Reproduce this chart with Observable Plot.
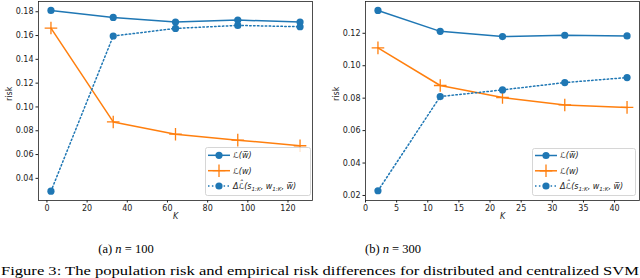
<!DOCTYPE html>
<html>
<head>
<meta charset="utf-8">
<script src="https://cdn.jsdelivr.net/npm/d3@7"></script>
<script src="https://cdn.jsdelivr.net/npm/@observablehq/plot@0.6"></script>
<style>
  html, body { margin: 0; padding: 0; background: #fff; }
  #fig { position: relative; width: 640px; height: 278px; overflow: hidden; background: #fff; }
  .panel { position: absolute; top: 0; }
  .legend { position: absolute; }
  .cap { position: absolute; font-family: "Liberation Serif", "DejaVu Serif", serif; font-size: 12.5px; color: #000; white-space: nowrap; transform: translateX(-50%); }
</style>
</head>
<body>
<div id="fig"></div>
<script>
// ---- data ----
const kA = [2, 33, 64, 95, 126];
const riskBarA = [0.1811, 0.1752, 0.1713, 0.1730, 0.1713];
const riskLocalA = [0.1663, 0.0874, 0.0771, 0.0721, 0.0674];
const diffA = [0.0292, 0.1596, 0.1660, 0.1685, 0.1674];

const kB = [2, 12, 22, 32, 42];
const riskBarB = [0.1341, 0.1212, 0.1180, 0.1188, 0.1184];
const riskLocalB = [0.1110, 0.0878, 0.0804, 0.0758, 0.0743];
const diffB = [0.0229, 0.0810, 0.0851, 0.0896, 0.0927];

const xTicksA = [0, 20, 40, 60, 80, 100, 120];
const yTicksA = [0.04, 0.06, 0.08, 0.10, 0.12, 0.14, 0.16, 0.18];
const xTicksB = [0, 5, 10, 15, 20, 25, 30, 35, 40];
const yTicksB = [0.02, 0.04, 0.06, 0.08, 0.10, 0.12];

const captionA = "n = 100";
const captionB = "n = 300";
const figCaption = "Figure 3: The population risk and empirical risk differences for distributed and centralized SVM";

const BLUE = "#1f77b4", ORANGE = "#ff7f0e";

// plus marker as custom symbol
const plusSymbol = {
  draw(ctx, size) {
    const r = Math.sqrt(size / Math.PI);
    ctx.moveTo(-r, 0); ctx.lineTo(r, 0);
    ctx.moveTo(0, -r); ctx.lineTo(0, r);
  }
};

function panel(ks, bar, local, diff, xDomain, yDomain, xTicks, yTicks, marginLeft, marginRight) {
  const rows = ks.map((k, i) => ({k, bar: bar[i], local: local[i], diff: diff[i]}));
  return Plot.plot({
    width: 320, height: 230,
    marginLeft, marginRight, marginTop: 1, marginBottom: 30,
    x: {domain: xDomain},
    y: {domain: yDomain},
    style: {fontFamily: "DejaVu Sans", fontSize: "8px", color: "#222", background: "transparent", overflow: "visible"},
    marks: [
      Plot.axisX({ticks: xTicks, tickSize: 2.5, tickPadding: 2, label: null, tickFormat: d3.format("d"), fill: "#222"}),
      Plot.axisY({ticks: yTicks, tickSize: 2.5, tickPadding: 2.5, label: null, tickFormat: d3.format(".2f"), fill: "#222"}),
      Plot.text(["K"], {frameAnchor: "bottom", dy: 18, fontStyle: "italic", fill: "#222"}),
      Plot.text(["risk"], {frameAnchor: "left", dx: -29, rotate: -90, fill: "#222"}),
      Plot.line(rows, {x: "k", y: "bar", stroke: BLUE, strokeWidth: 1.5}),
      Plot.dot(rows, {x: "k", y: "bar", r: 3.6, fill: BLUE, stroke: "none"}),
      Plot.line(rows, {x: "k", y: "local", stroke: ORANGE, strokeWidth: 1.5}),
      Plot.dot(rows, {x: "k", y: "local", r: 6.3, symbol: plusSymbol, stroke: ORANGE, strokeWidth: 1.3, fill: "none"}),
      Plot.line(rows, {x: "k", y: "diff", stroke: BLUE, strokeWidth: 1.5, strokeDasharray: "1.5,2.4"}),
      Plot.dot(rows, {x: "k", y: "diff", r: 3.6, fill: BLUE, stroke: "none"}),
      Plot.frame({stroke: "#222", strokeWidth: 0.8})
    ]
  });
}

function legendSVG(w, h, rowY) {
  const ns = "http://www.w3.org/2000/svg";
  const font = 'font-family="DejaVu Sans" font-size="8" font-style="italic" fill="#222"';
  const sub = 'font-size="5.6" dy="1.8"';
  return `<svg xmlns="${ns}" width="${w}" height="${h}">
    <rect x="0.5" y="0.5" width="${w - 1}" height="${h - 1}" rx="2" fill="#fff" fill-opacity="0.8" stroke="#ccc" stroke-width="0.8"/>
    <line x1="3" x2="25" y1="${rowY[0]}" y2="${rowY[0]}" stroke="${BLUE}" stroke-width="1.5"/>
    <circle cx="14" cy="${rowY[0]}" r="3.6" fill="${BLUE}"/>
    <text x="28" y="${rowY[0]}" dy="0.35em" ${font}>ℒ(w̅)</text>
    <line x1="3" x2="25" y1="${rowY[1]}" y2="${rowY[1]}" stroke="${ORANGE}" stroke-width="1.5"/>
    <path d="M7.7,${rowY[1]}H20.3M14,${rowY[1] - 6.3}V${rowY[1] + 6.3}" stroke="${ORANGE}" stroke-width="1.3"/>
    <text x="28" y="${rowY[1]}" dy="0.35em" ${font}>ℒ(w)</text>
    <line x1="3" x2="25" y1="${rowY[2]}" y2="${rowY[2]}" stroke="${BLUE}" stroke-width="1.5" stroke-dasharray="1.5,2.4"/>
    <circle cx="14" cy="${rowY[2]}" r="3.6" fill="${BLUE}"/>
    <text x="28" y="${rowY[2]}" dy="0.35em" ${font}>Δℒ̂(s<tspan ${sub}>1:K</tspan><tspan dy="-1.8">, w</tspan><tspan ${sub}>1:K</tspan><tspan dy="-1.8">, w̅)</tspan></text>
  </svg>`;
}

const fig = document.getElementById("fig");

const pA = panel(kA, riskBarA, riskLocalA, diffA, [-4.2, 132.2], [0.0214, 0.1886], xTicksA, yTicksA, 38, 8);
pA.classList.add("panel"); pA.style.left = "0px";
fig.appendChild(pA);

const pB = panel(kB, riskBarB, riskLocalB, diffB, [0, 44], [0.0169, 0.1396], xTicksB, yTicksB, 45, 1);
pB.classList.add("panel"); pB.style.left = "320px";
fig.appendChild(pB);

const lA = document.createElement("div");
lA.className = "legend"; lA.style.left = "205px"; lA.style.top = "147px";
lA.innerHTML = legendSVG(106, 49, [8.3, 23.7, 39]);
fig.appendChild(lA);

const lB = document.createElement("div");
lB.className = "legend"; lB.style.left = "532px"; lB.style.top = "148px";
lB.innerHTML = legendSVG(104, 48, [7.5, 22.8, 38]);
fig.appendChild(lB);

function caption(label, text, cx) {
  const d = document.createElement("div");
  d.className = "cap";
  d.style.left = cx + "px"; d.style.top = "242px";
  const parts = text.split(" ");
  d.innerHTML = `${label} <i>${parts[0]}</i> ${parts.slice(1).join(" ")}`;
  fig.appendChild(d);
}
caption("(a)", captionA, 126);
caption("(b)", captionB, 393);

const capSvg = document.createElementNS("http://www.w3.org/2000/svg", "svg");
capSvg.setAttribute("width", 640); capSvg.setAttribute("height", 16);
capSvg.style.position = "absolute"; capSvg.style.left = "0px"; capSvg.style.top = "262px";
const t = document.createElementNS("http://www.w3.org/2000/svg", "text");
t.setAttribute("x", 1); t.setAttribute("y", 12.6);
t.setAttribute("textLength", 638); t.setAttribute("lengthAdjust", "spacingAndGlyphs");
t.setAttribute("font-family", "Liberation Serif, DejaVu Serif, serif");
t.setAttribute("font-size", "11.5");
t.textContent = figCaption;
capSvg.appendChild(t);
fig.appendChild(capSvg);
</script>
</body>
</html>
